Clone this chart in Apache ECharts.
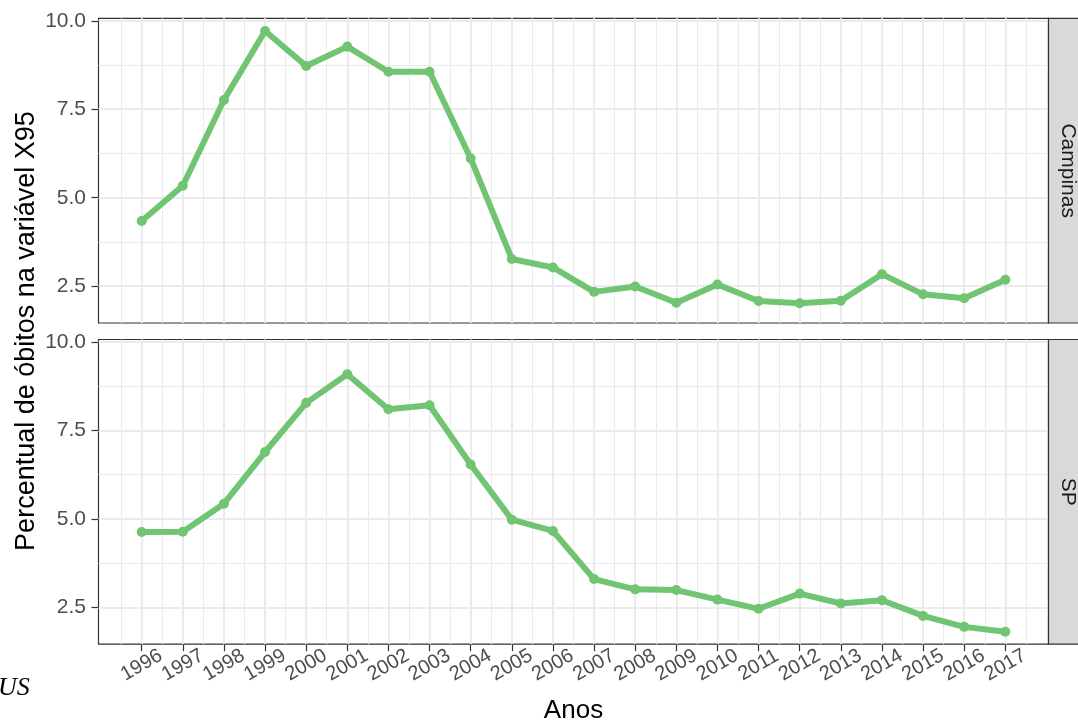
<!DOCTYPE html>
<html>
<head>
<meta charset="utf-8">
<title>Percentual de óbitos na variável X95</title>
<script src="https://cdn.jsdelivr.net/npm/echarts@6/dist/echarts.min.js"></script>
<style>
  html, body { margin: 0; padding: 0; background: #ffffff; }
  #chart { width: 1078px; height: 724px; }
</style>
</head>
<body>
<div id="chart"></div>
<script>
// Anos da série
const years = [1996, 1997, 1998, 1999, 2000, 2001, 2002, 2003, 2004, 2005, 2006,
               2007, 2008, 2009, 2010, 2011, 2012, 2013, 2014, 2015, 2016, 2017];

// Percentual de óbitos classificados na variável X95
const campinas = [4.34, 5.34, 7.76, 9.71, 8.72, 9.27, 8.56, 8.56, 6.11, 3.27, 3.03,
                  2.34, 2.49, 2.03, 2.55, 2.08, 2.02, 2.09, 2.84, 2.27, 2.16, 2.68];
const sp = [4.63, 4.64, 5.43, 6.89, 8.28, 9.09, 8.10, 8.21, 6.54, 4.98, 4.66,
            3.30, 3.01, 2.99, 2.72, 2.46, 2.89, 2.61, 2.70, 2.26, 1.95, 1.81];

// Painéis (facetas)
const panels = ['Campinas', 'SP'];

// Marcas dos eixos e linhas de grade secundárias
const yTicks = [2.5, 5.0, 7.5, 10.0];
const yMinor = [3.75, 6.25, 8.75];
const xMinor = [1995.5, 1996.5, 1997.5, 1998.5, 1999.5, 2000.5, 2001.5, 2002.5,
                2003.5, 2004.5, 2005.5, 2006.5, 2007.5, 2008.5, 2009.5, 2010.5,
                2011.5, 2012.5, 2013.5, 2014.5, 2015.5, 2016.5, 2017.5];

const X_MIN = 1994.95, X_MAX = 2018.05;
const Y_MIN = 1.46, Y_MAX = 10.07;

const GREEN = '#70C472';
const GRID_COLOR = '#EBEBEB';
const DARK = '#333333';
const TICK_TEXT = '#4D4D4D';
const FONT = '"Liberation Sans", Arial, Helvetica, sans-serif';

const PANEL_LEFT = 98.5, PANEL_W = 950;
const PANEL_TOPS = [18.3, 339.5];
const PANEL_H = 304.7;

const chart = echarts.init(document.getElementById('chart'), null, { renderer: 'canvas' });

const grids = PANEL_TOPS.map(top => ({
  left: PANEL_LEFT, top: top, width: PANEL_W, height: PANEL_H,
  show: true, borderColor: DARK, borderWidth: 1.2, backgroundColor: '#ffffff',
  containLabel: false
}));

const xAxes = [];
const yAxes = [];
PANEL_TOPS.forEach((top, i) => {
  const isBottom = i === PANEL_TOPS.length - 1;
  // eixo principal x
  xAxes.push({
    type: 'value', gridIndex: i, min: X_MIN, max: X_MAX,
    axisLine: { show: false },
    axisTick: { show: isBottom, customValues: years, length: 7,
                lineStyle: { color: DARK, width: 1.2 } },
    axisLabel: { show: isBottom, customValues: years, rotate: 30, margin: 21,
                 align: 'center', verticalAlign: 'middle',
                 fontSize: 20, color: TICK_TEXT, fontFamily: FONT,
                 formatter: v => String(Math.round(v)) },
    splitLine: { show: true, lineStyle: { color: GRID_COLOR, width: 2 } }
  });
  // grade secundária x
  xAxes.push({
    type: 'value', gridIndex: i, min: X_MIN, max: X_MAX,
    axisLine: { show: false },
    axisTick: { show: false, customValues: xMinor },
    axisLabel: { show: false },
    splitLine: { show: true, lineStyle: { color: GRID_COLOR, width: 1 } }
  });
  // eixo principal y
  yAxes.push({
    type: 'value', gridIndex: i, min: Y_MIN, max: Y_MAX,
    axisLine: { show: false },
    axisTick: { show: true, customValues: yTicks, length: 7,
                lineStyle: { color: DARK, width: 1.2 } },
    axisLabel: { show: true, customValues: yTicks, margin: 12.5,
                 fontSize: 21, color: TICK_TEXT, fontFamily: FONT,
                 formatter: v => v.toFixed(1) },
    splitLine: { show: true, lineStyle: { color: GRID_COLOR, width: 2 } }
  });
  // grade secundária y
  yAxes.push({
    type: 'value', gridIndex: i, min: Y_MIN, max: Y_MAX,
    axisLine: { show: false },
    axisTick: { show: false, customValues: yMinor },
    axisLabel: { show: false },
    splitLine: { show: true, lineStyle: { color: GRID_COLOR, width: 1 } }
  });
});

const seriesData = [campinas, sp];
const series = seriesData.map((vals, i) => ({
  name: panels[i],
  type: 'line',
  xAxisIndex: i * 2,
  yAxisIndex: i * 2,
  data: years.map((y, k) => [y, vals[k]]),
  symbol: 'circle',
  symbolSize: 10,
  lineStyle: { color: GREEN, width: 6 },
  itemStyle: { color: GREEN },
  z: 5,
  animation: false
}));

// Faixas laterais com o nome de cada painel
const strips = [];
PANEL_TOPS.forEach((top, i) => {
  strips.push({
    type: 'rect',
    shape: { x: PANEL_LEFT + PANEL_W, y: top, width: 40, height: PANEL_H },
    style: { fill: '#D9D9D9', stroke: DARK, lineWidth: 1.2 },
    z: 10
  });
  strips.push({
    type: 'text',
    x: 1068, y: top + PANEL_H / 2,
    rotation: -Math.PI / 2,
    style: { text: panels[i], fill: '#1A1A1A', fontSize: 21, fontFamily: FONT,
             align: 'center', verticalAlign: 'middle' },
    z: 11
  });
});

const titles = [
  {
    type: 'text', x: 27, y: 331, rotation: Math.PI / 2,
    style: { text: 'Percentual de óbitos na variável X95', fill: '#000000',
             fontSize: 27, fontFamily: FONT, align: 'center', verticalAlign: 'middle' }
  },
  {
    type: 'text', x: 573.5, y: 711,
    style: { text: 'Anos', fill: '#000000', fontSize: 26, fontFamily: FONT,
             align: 'center', verticalAlign: 'middle' }
  },
  {
    type: 'text', x: -2, y: 688,
    style: { text: 'US', fill: '#000000', fontSize: 26, fontStyle: 'italic',
             fontFamily: '"Liberation Serif", "Times New Roman", serif',
             align: 'left', verticalAlign: 'middle' }
  }
];

chart.setOption({
  backgroundColor: '#ffffff',
  animation: false,
  grid: grids,
  xAxis: xAxes,
  yAxis: yAxes,
  series: series,
  graphic: strips.concat(titles)
});
</script>
</body>
</html>
